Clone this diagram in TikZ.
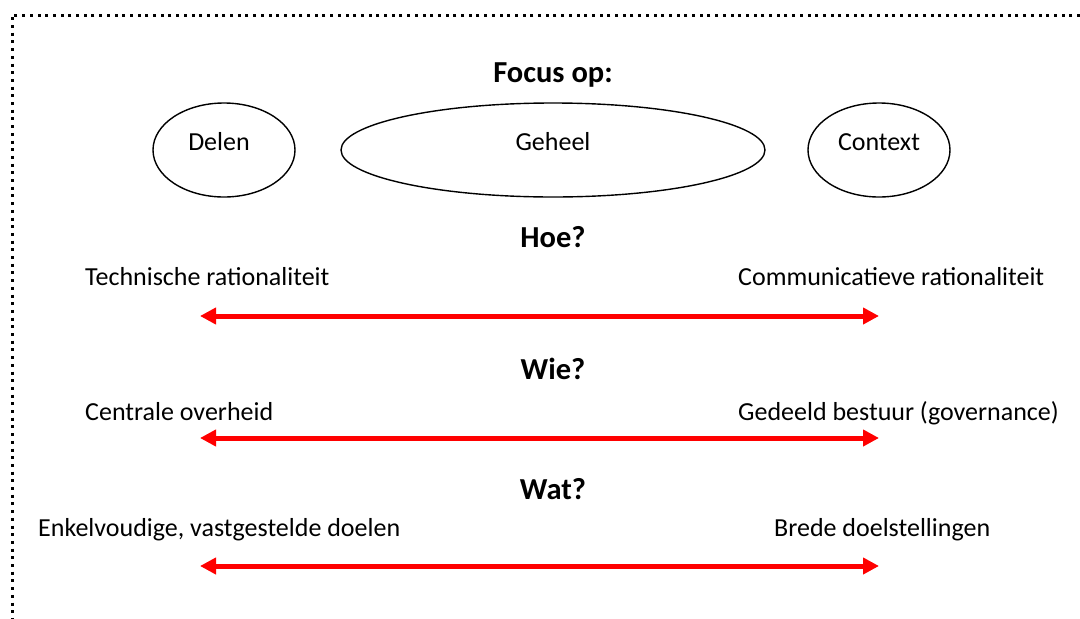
\documentclass[tikz,border=0pt]{standalone}
\usepackage{fontspec}
\setmainfont{Carlito}
\usetikzlibrary{arrows.meta,shapes.geometric}
\definecolor{arrred}{RGB}{255,0,0}
\tikzset{
  lbl/.style={font=\fontsize{26}{30}\selectfont, inner sep=0pt, anchor=base west},
  clbl/.style={font=\fontsize{26}{30}\selectfont, inner sep=0pt, anchor=base},
  head/.style={font=\fontsize{30.5}{34}\selectfont\bfseries, inner sep=0pt, anchor=base},
  oval/.style={draw, ellipse, line width=1.4pt, inner sep=0pt},
  redarrow/.style={draw=arrred, line width=5pt, {Triangle[length=16pt,width=16pt]}-{Triangle[length=16pt,width=16pt]}},
  border/.style={line width=3pt, dash pattern=on 3pt off 4.7pt}
}
\begin{document}
\begin{tikzpicture}[x=1pt,y=-1pt]
\useasboundingbox (0,0) rectangle (1080,619);
\coordinate (tl) at (12,15);
\coordinate (tr) at (1080,15);
\coordinate (bl) at (12,619);
\draw[border] (tr) -- (tl) -- (bl);

\node[head] (focus) at (553,82) {Focus op:};
\node[oval, minimum width=142pt, minimum height=94pt] (delen) at (224,150) {};
\node[clbl] at (219,150) {Delen};
\node[oval, minimum width=424pt, minimum height=94pt] (geheel) at (553,150) {};
\node[clbl] at (553,150) {Geheel};
\node[oval, minimum width=142pt, minimum height=94pt] (context) at (879,150) {};
\node[clbl] at (879,150) {Context};

\node[head] (hoe) at (553,247) {Hoe?};
\node[lbl] (tech) at (85,285) {Technische rationaliteit};
\node[lbl] (comm) at (738,285) {Communicatieve rationaliteit};
\coordinate (a1l) at (200,316);
\coordinate (a1r) at (879,316);
\draw[redarrow] (a1l) -- (a1r);

\node[head] (wie) at (553,379) {Wie?};
\node[lbl] (cent) at (85,420) {Centrale overheid};
\node[lbl] (gede) at (738,420) {Gedeeld bestuur (governance)};
\coordinate (a2l) at (200,438);
\coordinate (a2r) at (879,438);
\draw[redarrow] (a2l) -- (a2r);

\node[head] (wat) at (553,499) {Wat?};
\node[lbl] (enk) at (38,536) {Enkelvoudige, vastgestelde doelen};
\node[lbl] (bre) at (774,536) {Brede doelstellingen};
\coordinate (a3l) at (200,566);
\coordinate (a3r) at (879,566);
\draw[redarrow] (a3l) -- (a3r);
\end{tikzpicture}
\end{document}
